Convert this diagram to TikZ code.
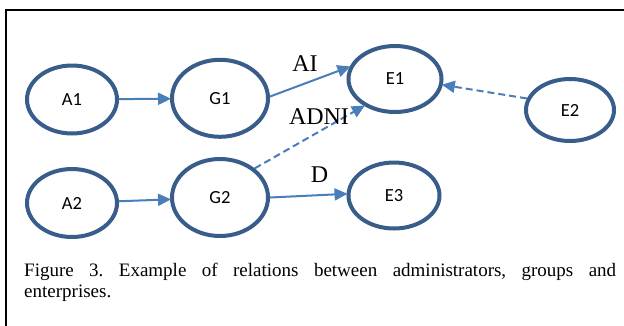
\documentclass[tikz,border=0pt]{standalone}
\usepackage{fontspec}
\setmainfont{Liberation Serif}
\newfontfamily\calfont{Carlito}
\usetikzlibrary{shapes.geometric,arrows.meta}
\definecolor{ellcol}{RGB}{56,93,138}
\definecolor{arrcol}{RGB}{74,126,187}
\begin{document}
\begin{tikzpicture}[x=1pt,y=-1pt,
  ent/.style={ellipse,draw=ellcol,line width=4pt,inner sep=0pt,
    minimum width=90pt,minimum height=68pt,font=\calfont\fontsize{18.5}{22}\selectfont},
  big/.style={minimum width=96pt,minimum height=77pt},
  conn/.style={draw=arrcol,line width=2pt,-{Triangle[length=13pt,width=12pt]},shorten >=-1pt},
  dconn/.style={conn,dash pattern=on 7pt off 4pt},
  rel/.style={inner sep=0pt,font=\fontsize{24}{27}\selectfont}]
\useasboundingbox (0,0) rectangle (624,325);
\draw[line width=2pt,black] (6,330) -- (6,10) -- (630,10);
\node[ent] (A1) at (72,99.5) {A1};
\node[ent,big] (G1) at (220,98.3) {G1};
\node[ent,minimum width=93pt,minimum height=66pt] (E1) at (395,79) {E1};
\node[ent,minimum width=88pt,minimum height=62pt] (E2) at (570,110) {E2};
\node[ent] (A2) at (72,203) {A2};
\node[ent,big] (G2) at (220,197.5) {G2};
\node[ent,minimum width=91pt,minimum height=66pt] (E3) at (394,195.5) {E3};
\draw[conn] (A1) -- (G1);
\draw[conn] (A2) -- (G2);
\draw[conn] (G1.2) -- (E1.165);
\draw[dconn] (G2.40) -- (E1.221);
\draw[dconn] (E2.165) -- (E1.353);
\draw[conn] (G2.0) -- (E3.178);
\node[rel] (AI) at (305,63.5) {AI};
\node[rel] (ADNI) at (319,116.5) {ADNI};
\node[rel] (D) at (319.5,174.5) {D};
\node[inner sep=0pt,anchor=base west] (cap) at (24,276)
  {\parbox[t]{592pt}{\frenchspacing\fontsize{19}{21}\selectfont Figure 3. Example of relations between administrators, groups and\linebreak enterprises.}};
\end{tikzpicture}
\end{document}
